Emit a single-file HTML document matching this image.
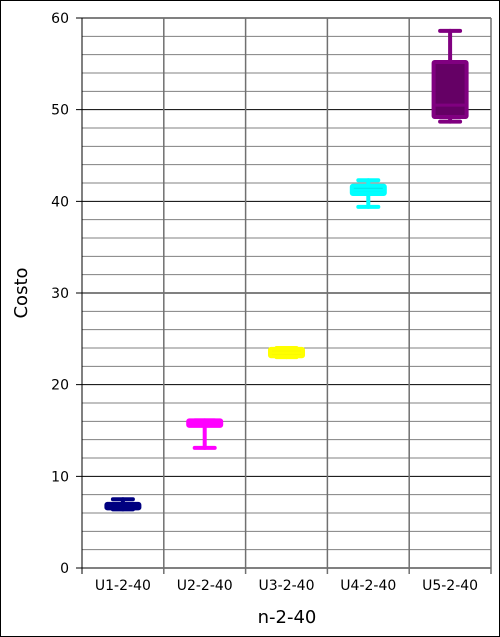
<!DOCTYPE html>
<html><head><meta charset="utf-8"><style>
body{margin:0;background:#fff}
svg{display:block;font-family:"DejaVu Sans","Liberation Sans",sans-serif}
</style></head><body>
<svg id="c" width="500" height="637">
<rect x="0.5" y="0.5" width="499" height="636" fill="#fff" stroke="#000"/>
<g id="grid"></g><g id="marks"></g><g id="labels"></g>
<text x="287" y="623" font-size="18" text-anchor="middle">n-2-40</text>
<text transform="translate(27,293) rotate(-90)" font-size="18" text-anchor="middle">Costo</text>
</svg>
<script>
const categories=["U1-2-40","U2-2-40","U3-2-40","U4-2-40","U5-2-40"];
const whiskerLow=[6.4,13.1,23.0,39.4,48.7];
const q1=[6.5,15.5,23.1,40.8,49.2];
const median=[6.8,15.8,23.5,41.2,50.5];
const q3=[7.0,16.1,23.9,41.7,55.2];
const whiskerHigh=[7.5,16.1,24.0,42.3,58.6];
const colors=["#000080","#ff00ff","#ffff00","#00ffff","#800080"];
const fills=["#000066","#e600e6","#e6e600","#00e6e6","#650065"];
const yTicks=[0,10,20,30,40,50,60];
const L=82,R=491,T=18,B=568,ymax=60;
const y=v=>B-(v/ymax)*(B-T);
const bw=(R-L)/categories.length;
const x=i=>L+bw*(i+0.5);
const NS="http://www.w3.org/2000/svg";
function mk(p,t,a){const e=document.createElementNS(NS,t);for(const k in a)e.setAttribute(k,a[k]);p.appendChild(e);return e;}
const g=document.getElementById('grid'),m=document.getElementById('marks'),lb=document.getElementById('labels');
for(let v=0;v<=ymax;v+=2){
 const major=v%10===0;
 const ln=mk(g,'line',{x1:L-(major?6:0),x2:R,y1:y(v),y2:y(v),stroke:major?'#000':'#808080','stroke-width':1});
 
 
}
for(let i=0;i<=categories.length;i++){
 const ln=mk(g,'line',{x1:L+bw*i,x2:L+bw*i,y1:T,y2:B+6,stroke:i===0?'#000':'#707070','stroke-width':i===0?1:1.5});
 
 
}
yTicks.forEach(v=>{
 const t=mk(lb,'text',{x:L-13,y:y(v)+5,'font-size':14,'text-anchor':'end'});t.textContent=v;
 
 
});
categories.forEach((c,i)=>{
 const t=mk(lb,'text',{x:x(i),y:590,'font-size':14,'text-anchor':'middle'});t.textContent=c;
 
 
 const cx=x(i),col=colors[i];
 const grp=mk(m,'g',{});
 
 
 const sw={stroke:col,'stroke-width':4,'stroke-linecap':'round'};
 mk(grp,'line',Object.assign({x1:cx,x2:cx,y1:y(whiskerHigh[i]),y2:y(q3[i])},sw));
 mk(grp,'line',Object.assign({x1:cx,x2:cx,y1:y(whiskerLow[i]),y2:y(q1[i])},sw));
 mk(grp,'line',Object.assign({x1:cx-10,x2:cx+10,y1:y(whiskerHigh[i]),y2:y(whiskerHigh[i])},sw));
 mk(grp,'line',Object.assign({x1:cx-10,x2:cx+10,y1:y(whiskerLow[i]),y2:y(whiskerLow[i])},sw));
 const h=Math.max(0.5,y(q1[i])-y(q3[i]));
 mk(grp,'rect',{x:cx-16.5,y:y(q3[i]),width:33,height:h,fill:fills[i],stroke:col,'stroke-width':4,'stroke-linejoin':'round',rx:1});
 mk(grp,'line',{x1:cx-16,x2:cx+16,y1:y(median[i]),y2:y(median[i]),stroke:col,'stroke-width':3});
});
</script>
</body></html>
